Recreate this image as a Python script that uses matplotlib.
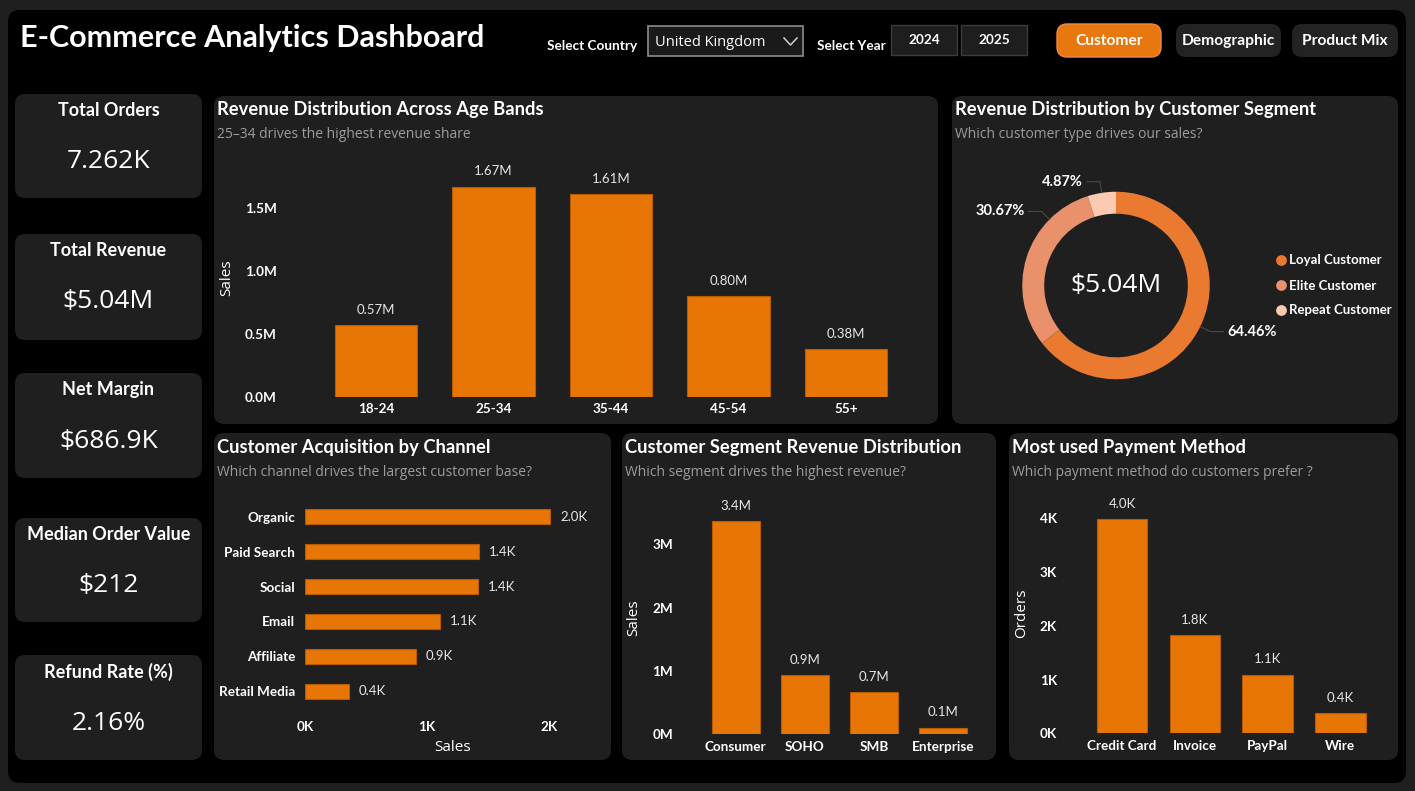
import matplotlib
matplotlib.use("Agg")
import matplotlib.pyplot as plt
from matplotlib.patches import FancyBboxPatch, Rectangle
import numpy as np

W, H = 1415, 791

# ---- data ----
kpi_names = ["Total Orders", "Total Revenue", "Net Margin", "Median Order Value", "Refund Rate (%)"]
kpi_values = ["7.262K", "$5.04M", "$686.9K", "$212", "2.16%"]

age_bands = ["18-24", "25-34", "35-44", "45-54", "55+"]
age_sales = [0.57, 1.67, 1.61, 0.80, 0.38]          # $M

cust_types = ["Loyal Customer", "Elite Customer", "Repeat Customer"]
cust_share = [64.46, 30.67, 4.87]                   # %
total_revenue = "$5.04M"

channels = ["Organic", "Paid Search", "Social", "Email", "Affiliate", "Retail Media"]
channel_customers = [2.01, 1.43, 1.42, 1.11, 0.91, 0.36]   # K

segments = ["Consumer", "SOHO", "SMB", "Enterprise"]
segment_sales = [3.37, 0.93, 0.66, 0.10]           # $M

pay_methods = ["Credit Card", "Invoice", "PayPal", "Wire"]
pay_orders = [3.98, 1.83, 1.09, 0.38]              # K

ORANGE = "#E87606"
EDGE = "#B85A00"
PANEL = "#1F1F1F"
FRAME = "#1E1E1E"
SUB = "#9C9C9C"
LABEL = "#E6E6E6"
DONUT = ["#E97A30", "#E8916A", "#FCCAB0"]
SANS = ["Open Sans", "DejaVu Sans"]

plt.rcParams["font.family"] = ["Lato", "DejaVu Sans"]

fig = plt.figure(figsize=(W / 100, H / 100), dpi=100, facecolor=FRAME)
bg = fig.add_axes([0, 0, 1, 1])
bg.set_xlim(0, W)
bg.set_ylim(H, 0)
bg.axis("off")


def box(x0, y0, x1, y1, fc, r=8, ec="none", lw=0):
    bg.add_patch(FancyBboxPatch((x0, y0), x1 - x0, y1 - y0,
                                boxstyle=f"round,pad=0,rounding_size={r}",
                                fc=fc, ec=ec, lw=lw))


def px_axes(x0, y0, x1, y1):
    ax = fig.add_axes([x0 / W, 1 - y1 / H, (x1 - x0) / W, (y1 - y0) / H])
    ax.set_facecolor("none")
    for s in ax.spines.values():
        s.set_visible(False)
    ax.tick_params(length=0, colors="white", labelsize=9.7)
    return ax


def bold_ticks(ax):
    for lab in ax.get_xticklabels() + ax.get_yticklabels():
        lab.set_fontweight("bold")


def label_at(ax, x0, x1, y0, y1, px, py):
    # y label centred at pixel (px, py); the label anchors on its right edge
    px += 7
    ax.yaxis.set_label_coords((px - x0) / (x1 - x0), (y1 - py) / (y1 - y0))


def panel(x0, y0, x1, y1, title, subtitle):
    box(x0, y0, x1, y1, PANEL, r=10)
    bg.text(x0 + 3, y0 + 14, title, fontsize=13.2, fontweight="bold", color="white", va="center")
    bg.text(x0 + 3, y0 + 39, subtitle, fontsize=10, color=SUB, va="center", family=SANS)


# black dashboard area
box(8, 10, 1406, 783, "black", r=12)

# ---- header ----
bg.text(20, 38, "E-Commerce Analytics Dashboard", fontsize=22, fontweight="bold",
        color="white", va="center")
bg.text(547, 46, "Select Country", fontsize=9.8, fontweight="bold", color="white", va="center")
bg.add_patch(Rectangle((648, 26), 155, 30, fc="#1A1A1A", ec="#8C8C8C", lw=1.2))
bg.text(655, 43, "United Kingdom", fontsize=10.5, color="white", va="center", family=SANS)
bg.plot([784, 790.5, 797], [38, 45, 38], color="#D0D0D0", lw=1.1)
bg.text(817, 46, "Select Year", fontsize=9.8, fontweight="bold", color="white", va="center")
for x0, yr in [(891, "2024"), (961, "2025")]:
    bg.add_patch(Rectangle((x0, 25), 66, 30, fc="#1E1E1E", ec="#3C3C3C", lw=1))
    bg.text(x0 + 33, 40, yr, fontsize=9.8, fontweight="bold", color="white",
            ha="center", va="center")
for (x0, x1), name, fc in [((1057, 1161), "Customer", "#E8770E"),
                           ((1176, 1281), "Demographic", "#232323"),
                           ((1292, 1398), "Product Mix", "#232323")]:
    box(x0, 24, x1, 57, fc, r=10, ec="#F08A45" if fc == "#E8770E" else "none",
        lw=1 if fc == "#E8770E" else 0)
    bg.text((x0 + x1) / 2, 41, name, fontsize=11.2, fontweight="bold", color="white",
            ha="center", va="center")

# ---- KPI cards ----
card_y = [(94, 198), (234, 340), (373, 478), (518, 622), (655, 760)]
for (y0, y1), name, val in zip(card_y, kpi_names, kpi_values):
    box(15, y0, 202, y1, PANEL, r=10)
    bg.text(108.5, y0 + 17, name, fontsize=13, fontweight="bold", color="white",
            ha="center", va="center")
    bg.text(108.5, y0 + 68, val, fontsize=19, color="white", ha="center", va="center",
            family=SANS)

# ---- Revenue Distribution Across Age Bands ----
panel(214, 96, 938, 424, "Revenue Distribution Across Age Bands",
      "25\u201334 drives the highest revenue share")
a = (317, 160, 905, 397)
ax = px_axes(*a)
x = np.arange(len(age_bands))
ax.bar(x, age_sales, width=0.70, color=ORANGE, edgecolor=EDGE, lw=0.8)
ax.set_xlim(-0.5, len(age_bands) - 0.5)
ax.set_ylim(0, 1.881)
ax.set_xticks(x, age_bands)
ax.set_yticks([0, 0.5, 1.0, 1.5], ["0.0M", "0.5M", "1.0M", "1.5M"])
ax.tick_params(axis="y", pad=29)
ax.tick_params(axis="x", pad=4)
bold_ticks(ax)
for i, v in enumerate(age_sales):
    ax.annotate(f"{v:.2f}M", (i, v), xytext=(0, 11), textcoords="offset points",
                ha="center", va="center", fontsize=9.5, color=LABEL)
ax.set_ylabel("Sales", color="white", fontsize=11, family=SANS)
label_at(ax, a[0], a[2], a[1], a[3], 227, 278)

# ---- Revenue Distribution by Customer Segment (donut) ----
panel(952, 96, 1398, 424, "Revenue Distribution by Customer Segment",
      "Which customer type drives our sales?")
cx, cy, half = 1116, 285.5, 150
dax = fig.add_axes([(cx - half) / W, 1 - (cy + half) / H, 2 * half / W, 2 * half / H])
dax.axis("off")
wedges, _ = dax.pie(cust_share, colors=DONUT, startangle=90, counterclock=False,
                    radius=1, wedgeprops=dict(width=0.234, edgecolor="none"))
dax.set_xlim(-1.6, 1.6)
dax.set_ylim(-1.6, 1.6)
anchor_frac = [0.5, 0.25, 0.5]
for w, share, frac in zip(wedges, cust_share, anchor_frac):
    ang = np.deg2rad(w.theta1 + frac * (w.theta2 - w.theta1))
    ax0, ay0 = np.cos(ang), np.sin(ang)
    ex, ey = 1.12 * ax0, 1.12 * ay0
    side = 1 if ex > 0 else -1
    lx = ex + side * 0.14
    dax.plot([ax0, ex, lx], [ay0, ey, ey], color="#4A4A4A", lw=0.8)
    dax.text(lx + side * 0.04, ey, f"{share:.2f}%", fontsize=10.5, fontweight="bold",
             color="white", ha="left" if side > 0 else "right", va="center")
dax.text(0, 0, total_revenue, fontsize=19, color="white", ha="center", va="center",
         family=SANS)
for k, (name, col) in enumerate(zip(cust_types, DONUT)):
    yy = 260.5 + 25 * k
    bg.scatter([1281.5], [yy], s=60, color=col, edgecolors="none")
    bg.text(1289, yy, name, fontsize=9.5, fontweight="bold", color="white", va="center")

# ---- Customer Acquisition by Channel ----
panel(214, 433, 611, 760, "Customer Acquisition by Channel",
      "Which channel drives the largest customer base?")
a = (305, 499.5, 592, 708.5)
ax = px_axes(*a)
y = np.arange(len(channels))
ax.barh(y, channel_customers, height=0.43, color=ORANGE, edgecolor=EDGE, lw=0.8)
ax.set_ylim(len(channels) - 0.5, -0.5)
ax.set_xlim(0, 2.352)
ax.set_yticks(y, channels)
ax.set_xticks([0, 1, 2], ["0K", "1K", "2K"])
ax.tick_params(axis="y", pad=7)
ax.tick_params(axis="x", pad=9)
bold_ticks(ax)
for i, v in enumerate(channel_customers):
    ax.annotate(f"{v:.1f}K", (v, i), xytext=(7, 0), textcoords="offset points",
                ha="left", va="center", fontsize=9.5, color=LABEL)
ax.set_xlabel("Sales", color="white", fontsize=11, family=SANS)
ax.xaxis.set_label_coords((453 - a[0]) / (a[2] - a[0]), (a[3] - 740) / (a[3] - a[1]))

# ---- Customer Segment Revenue Distribution ----
panel(622, 433, 996, 760, "Customer Segment Revenue Distribution",
      "Which segment drives the highest revenue?")
a = (701, 500, 978, 734)
ax = px_axes(*a)
x = np.arange(len(segments))
ax.bar(x, segment_sales, width=0.69, color=ORANGE, edgecolor=EDGE, lw=0.8)
ax.set_xlim(-0.5, len(segments) - 0.5)
ax.set_ylim(0, 3.70)
ax.set_xticks(x, segments)
ax.set_yticks([0, 1, 2, 3], ["0M", "1M", "2M", "3M"])
ax.tick_params(axis="y", pad=20)
ax.tick_params(axis="x", pad=5)
bold_ticks(ax)
for i, v in enumerate(segment_sales):
    ax.annotate(f"{v:.1f}M", (i, v), xytext=(0, 11), textcoords="offset points",
                ha="center", va="center", fontsize=9.5, color=LABEL)
ax.set_ylabel("Sales", color="white", fontsize=11, family=SANS)
label_at(ax, a[0], a[2], a[1], a[3], 634, 618)

# ---- Most used Payment Method ----
panel(1009, 433, 1398, 760, "Most used Payment Method",
      "Which payment method do customers prefer ?")
a = (1085.6, 490, 1376.8, 733.3)
ax = px_axes(*a)
x = np.arange(len(pay_methods))
ax.bar(x, pay_orders, width=0.69, color=ORANGE, edgecolor=EDGE, lw=0.8)
ax.set_xlim(-0.5, len(pay_methods) - 0.5)
ax.set_ylim(0, 4.527)
ax.set_xticks(x, pay_methods)
ax.set_yticks([0, 1, 2, 3, 4], ["0K", "1K", "2K", "3K", "4K"])
ax.tick_params(axis="y", pad=20.5)
ax.tick_params(axis="x", pad=5)
bold_ticks(ax)
for i, v in enumerate(pay_orders):
    ax.annotate(f"{v:.1f}K", (i, v), xytext=(0, 11), textcoords="offset points",
                ha="center", va="center", fontsize=9.5, color=LABEL)
ax.set_ylabel("Orders", color="white", fontsize=11, family=SANS)
label_at(ax, a[0], a[2], a[1], a[3], 1022, 613)

fig.savefig("out.png", dpi=100, facecolor=FRAME)
